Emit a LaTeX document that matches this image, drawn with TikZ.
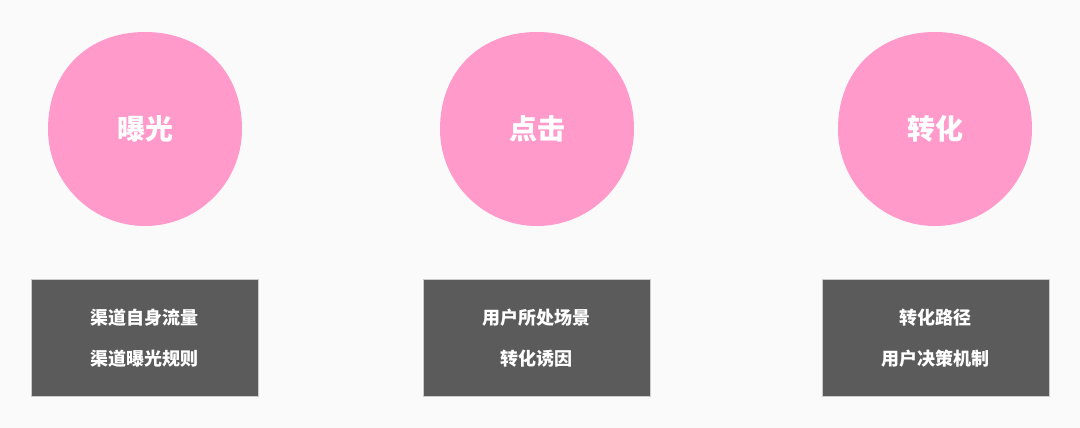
\documentclass[tikz,border=0pt]{standalone}
\usepackage{fontspec}
\newfontfamily\cjk{Noto Sans CJK SC}
\definecolor{bgcol}{HTML}{FAFAFA}
\definecolor{pinkcol}{HTML}{FF9ACB}
\definecolor{boxcol}{HTML}{5B5B5B}
\tikzset{
  stagetext/.style={text=white, font=\cjk\bfseries\fontsize{28}{32}\selectfont},
  infobox/.style={draw=white!80!black, fill=boxcol, rectangle, minimum width=227pt, minimum height=117pt, inner sep=0pt},
  infotext/.style={text=white, font=\cjk\bfseries\fontsize{18}{22}\selectfont}
}
\newcommand{\blob}[2]{%
  \fill[pinkcol] (#1+97,#2) .. controls (#1+97,#2-58) and (#1+57,#2-97) .. (#1,#2-97)
    .. controls (#1-57,#2-97) and (#1-97,#2-58) .. (#1-97,#2)
    .. controls (#1-97,#2+54) and (#1-53,#2+97) .. (#1,#2+97)
    .. controls (#1+53,#2+97) and (#1+97,#2+54) .. (#1+97,#2) -- cycle;}
\begin{document}
\begin{tikzpicture}[x=1pt,y=-1pt]
        % Background
        \fill[bgcol] (0,0) rectangle (1080,428);
        \useasboundingbox (0,0) rectangle (1080,428);

        % Stage blobs
        \blob{145}{129}
        \blob{537}{129}
        \blob{935}{129}
        \node[stagetext] (expose) at (145,129) {曝光};
        \node[stagetext] (click) at (537,129) {点击};
        \node[stagetext] (convert) at (935,129) {转化};

        % Factor boxes
        \node[infobox] (exposebox) at (144.5,337.5) {};
        \node[infobox] (clickbox) at (536.5,337.5) {};
        \node[infobox] (convertbox) at (935.5,337.5) {};

        % Factor texts
        \node[infotext] (exposeA) at (144.5,318) {渠道自身流量};
        \node[infotext] (exposeB) at (144.5,359) {渠道曝光规则};
        \node[infotext] (clickA) at (536.5,318) {用户所处场景};
        \node[infotext] (clickB) at (536.5,359) {转化诱因};
        \node[infotext] (convertA) at (935.5,318) {转化路径};
        \node[infotext] (convertB) at (935.5,359) {用户决策机制};
    \end{tikzpicture}
\end{document}
